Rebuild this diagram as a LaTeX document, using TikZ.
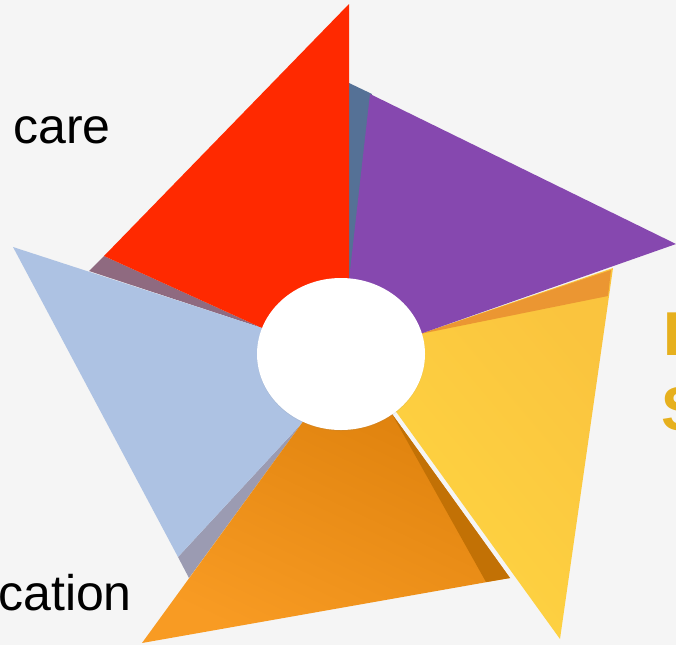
\documentclass[tikz,border=0pt]{standalone}
\usepackage{fontspec}
\setmainfont{Liberation Sans}
\usetikzlibrary{shapes.geometric,shadows}
\definecolor{pagebg}{HTML}{F5F5F5}
\definecolor{labelgold}{HTML}{E6B01E}
\tikzset{blade/.style={draw=none},
  hubnode/.style={ellipse, fill=white, minimum width=168pt, minimum height=152pt, inner sep=0pt, drop shadow={shadow xshift=0pt, shadow yshift=-1pt, opacity=0.12}},
  sidelabel/.style={font=\fontsize{50}{54}\selectfont, inner sep=0pt, anchor=base},
  goldlabel/.style={font=\bfseries\fontsize{62}{68}\selectfont, inner sep=0pt, anchor=base west, text=labelgold},
}

\begin{document}
\begin{tikzpicture}[x=1pt, y=-1pt]
\fill[pagebg] (0,0) rectangle (676,645);
\useasboundingbox (0,0) rectangle (676,645);
% under layers
\fill[blade, fill={rgb,255:red,85;green,113;blue,150}] (349,83) -- (372,94) -- (349,290) -- cycle;
\fill[blade, fill={rgb,255:red,143;green,106;blue,128}] (104,256) -- (89,271) -- (262,328) -- cycle;
\fill[blade, fill={rgb,255:red,155;green,155;blue,178}] (178,557) -- (189,578) -- (302,423) -- cycle;
% blades
\shade[blade, bottom color={rgb,255:red,255;green,214;blue,66}, top color={rgb,255:red,250;green,196;blue,62}, shading angle=-50] (613,268) -- (560,639) -- (397,413) -- (341,354) -- (420,334) -- cycle;
\fill[blade, fill={rgb,255:red,235;green,150;blue,50}] (611,270) -- (608,296) -- (420,334) -- cycle;
\fill[blade, fill={rgb,255:red,255;green,41;blue,0}] (349,4) -- (349,300) -- (262,328) -- (104,256) -- cycle;
\fill[blade, fill={rgb,255:red,134;green,72;blue,175}] (370,94) -- (676,244) -- (420,334) -- (341,354) -- (349,280) -- cycle;
\fill[blade, fill={rgb,255:red,173;green,194;blue,227}] (13,247) -- (262,328) -- (341,354) -- (302,423) -- (178,557) -- cycle;
\shade[blade, bottom color={rgb,255:red,248;green,155;blue,35}, top color={rgb,255:red,219;green,126;blue,10}, shading angle=-25] (142,643) -- (510,578) -- (392,414) -- (341,354) -- (302,423) -- cycle;
\fill[blade, fill={rgb,255:red,194;green,113;blue,5}] (486,582) -- (510,578) -- (392,414) -- cycle;
% hub
\node[hubnode] (hub) at (341,354) {};
% labels
\node[sidelabel] (caretext) at (62,143) {care};
\node[sidelabel, anchor=base east] (cationtext) at (132,610) {cation};
\node[goldlabel] (etext) at (663,355) {E};
\node[goldlabel] (stext) at (661,430) {S};
\end{tikzpicture}
\end{document}
